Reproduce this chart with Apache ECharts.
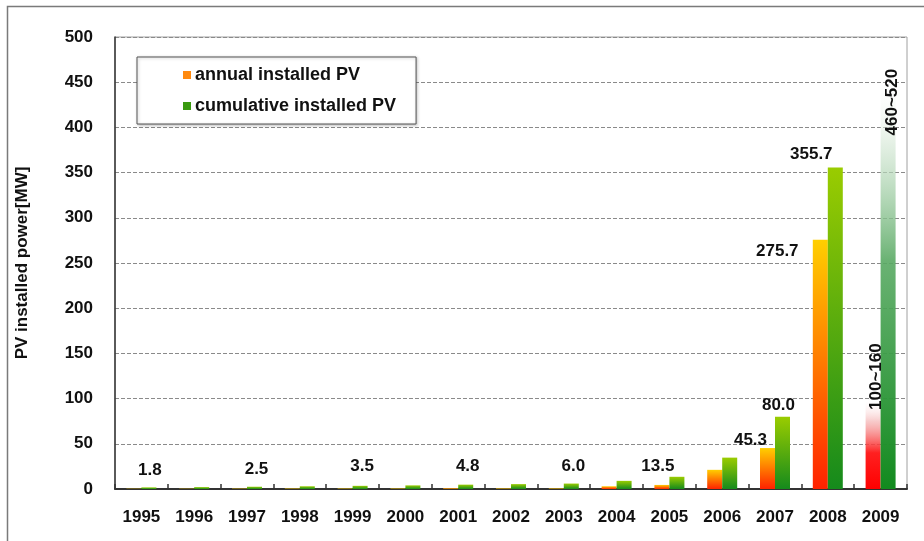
<!DOCTYPE html>
<html>
<head>
<meta charset="utf-8">
<script src="https://cdn.jsdelivr.net/npm/echarts@6/dist/echarts.min.js"></script>
<style>
html,body{margin:0;padding:0;background:#fff;}
#c{width:924px;height:541px;}
</style>
</head>
<body>
<div id="c"></div>
<script>
var years = ['1995','1996','1997','1998','1999','2000','2001','2002','2003','2004','2005','2006','2007','2008','2009'];
var annual = [0.3, 0.3, 0.4, 0.5, 0.5, 0.5, 0.8, 0.6, 0.6, 3.0, 4.5, 21.2, 45.3, 275.7, 100];
var cumulative = [1.8, 2.1, 2.5, 3.0, 3.5, 4.0, 4.8, 5.4, 6.0, 9.0, 13.5, 34.7, 80.0, 355.7, 460];
var annualLabels = ['', '', '', '', '', '', '', '', '', '', '', '', '45.3', '275.7', '100~160'];
var cumulativeLabels = ['1.8', '', '2.5', '', '3.5', '', '4.8', '', '6.0', '', '13.5', '', '80.0', '355.7', '460~520'];
var yTicks = [0, 50, 100, 150, 200, 250, 300, 350, 400, 450, 500];
var seriesNames = ['annual installed PV', 'cumulative installed PV'];

function grad(stops) {
  return { type: 'linear', x: 0, y: 0, x2: 0, y2: 1,
    colorStops: stops.map(function (s) { return { offset: s[0], color: s[1] }; }) };
}
var annualGrad = grad([[0, '#ffcf00'], [1, '#ff2200']]);
var cumGrad = grad([[0, '#9acc00'], [1, '#158a1c']]);
var annualFade = grad([[0, 'rgba(255,255,255,0)'], [0.25, 'rgba(240,150,150,0.5)'], [0.6, '#ff2020'], [1, '#ff0000']]);
var cumFade = grad([[0, 'rgba(255,255,255,0)'], [0.15, 'rgba(220,235,220,0.6)'], [0.45, 'rgba(90,170,100,0.9)'], [1, '#128a1e']]);

var labelFont = { fontFamily: 'Liberation Sans, Arial, sans-serif', fontWeight: 'bold', fontSize: 17, color: '#111' };

// label placement tweaks (styling only)
var annualLabelOffsets = { 12: [-17, 1], 13: [-43, 20] };
var cumLabelOffsets = { 0: [1, -9], 2: [2, -9], 4: [2, -11], 6: [2, -10], 8: [2, -9], 10: [-19, -2], 12: [-4, -3], 13: [-24, -5] };

function buildData(values, labels, offsets, baseColor, lastColor, lastLabelPos) {
  return values.map(function (v, i) {
    var item = { value: v, itemStyle: { color: i === values.length - 1 ? lastColor : baseColor } };
    if (labels[i]) {
      if (i === values.length - 1) {
        item.label = Object.assign({ show: true, formatter: labels[i], rotate: 90, position: lastLabelPos,
          align: 'center', verticalAlign: 'middle' }, labelFont);
      } else {
        item.label = Object.assign({ show: true, formatter: labels[i], position: 'top', distance: 0,
          offset: offsets[i] || [0, 0] }, labelFont);
      }
    }
    return item;
  });
}

var chart = echarts.init(document.getElementById('c'), null, { renderer: 'canvas' });
chart.setOption({
  animation: false,
  backgroundColor: '#fff',
  graphic: [{
    type: 'rect', left: 5, top: 4, shape: { x: 0, y: 0, width: 940, height: 600 },
    style: { fill: 'none', stroke: '#7a7a7a', lineWidth: 1.5 }, silent: true, z: -10
  }],
  grid: { left: 115, right: 17, top: 37, bottom: 52, show: true, borderColor: '#a0a0a0', borderWidth: 1, backgroundColor: 'transparent' },
  legend: {
    orient: 'vertical', left: 137, top: 57,
    padding: [9, 20, 9, 46], itemGap: 13,
    itemWidth: 8, itemHeight: 8, icon: 'rect',
    backgroundColor: '#fff', borderColor: '#555', borderWidth: 1,
    shadowColor: 'rgba(0,0,0,0.25)', shadowBlur: 3, shadowOffsetX: 1, shadowOffsetY: 1,
    textStyle: { fontFamily: 'Liberation Sans, Arial, sans-serif', fontWeight: 'bold', fontSize: 18, color: '#111', padding: [0, 0, 0, -1] },
    data: [
      { name: seriesNames[0], itemStyle: { color: '#ff8a10' } },
      { name: seriesNames[1], itemStyle: { color: '#3a9a10' } }
    ]
  },
  xAxis: {
    type: 'category', data: years,
    axisLine: { lineStyle: { color: '#333', width: 2 } },
    axisTick: { show: true, inside: true, length: 5, lineStyle: { color: '#333', width: 1.5 } },
    axisLabel: { margin: 20, fontFamily: 'Liberation Sans, Arial, sans-serif', fontWeight: 'bold', fontSize: 17, color: '#111' }
  },
  yAxis: {
    type: 'value', min: yTicks[0], max: yTicks[yTicks.length - 1], interval: yTicks[1] - yTicks[0],
    name: 'PV installed power[MW]', nameLocation: 'middle', nameGap: 84, nameRotate: 90,
    nameTextStyle: { fontFamily: 'Liberation Sans, Arial, sans-serif', fontWeight: 'bold', fontSize: 17, color: '#111' },
    axisLine: { show: true, lineStyle: { color: '#333', width: 1.5 } },
    axisTick: { show: false },
    axisLabel: { margin: 22, fontFamily: 'Liberation Sans, Arial, sans-serif', fontWeight: 'bold', fontSize: 17, color: '#111' },
    splitLine: { lineStyle: { color: '#8a8a8a', type: [4, 2], width: 1 } }
  },
  series: [
    {
      name: seriesNames[0], type: 'bar', barWidth: 15, barGap: '0%',
      data: buildData(annual, annualLabels, annualLabelOffsets, annualGrad, annualFade, [11, -22])
    },
    {
      name: seriesNames[1], type: 'bar', barWidth: 15, barGap: '0%',
      data: buildData(cumulative, cumulativeLabels, cumLabelOffsets, cumGrad, cumFade, [12, 29])
    }
  ]
});
</script>
</body>
</html>
